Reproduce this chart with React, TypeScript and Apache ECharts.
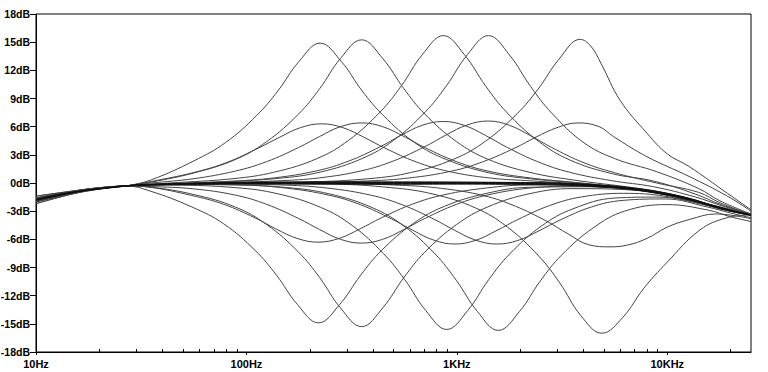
import React, { useEffect, useRef } from "react";
import * as echarts from "echarts";

// x-axis tick marks / labels
const X_MAJOR = [10, 100, 1000, 10000];
const X_LABELS = ["10Hz", "100Hz", "1KHz", "10KHz"];
const X_MINOR = [20, 30, 40, 50, 60, 70, 80, 90, 200, 300, 400, 500, 600, 700, 800, 900, 2000, 3000, 4000, 5000, 6000, 7000, 8000, 9000, 20000];

// flat (0 dB setting) responses
const FREQ_FLAT = [10, 13, 17, 22, 27, 35, 50, 70, 100, 200, 500, 1000, 2000, 3000, 5000, 7000, 10000, 13000, 16000, 20000, 25000];
const FLAT_1 = [-1.8, -1.25, -0.8, -0.5, -0.3, -0.18, -0.1, -0.05, 0, 0, 0, 0, -0.05, -0.1, -0.35, -0.65, -1.2, -1.75, -2.35, -2.95, -3.4];
const FLAT_2 = [-1.75, -1.2, -0.78, -0.48, -0.28, -0.14, -0.05, 0.02, 0.08, 0.12, 0.12, 0.1, 0.05, 0, -0.25, -0.55, -1.1, -1.68, -2.3, -2.9, -3.38];
const FLAT_3 = [-1.85, -1.3, -0.83, -0.52, -0.32, -0.2, -0.14, -0.1, -0.08, -0.1, -0.14, -0.12, -0.15, -0.2, -0.45, -0.75, -1.3, -1.85, -2.42, -3.0, -3.42];
const FLAT_4 = [-1.78, -1.22, -0.79, -0.49, -0.3, -0.16, -0.07, 0, 0.04, 0.06, 0.05, 0.06, 0.02, -0.04, -0.3, -0.6, -1.15, -1.72, -2.32, -2.92, -3.4];
const FLAT_5 = [-1.82, -1.27, -0.81, -0.51, -0.31, -0.19, -0.12, -0.07, -0.04, -0.05, -0.06, -0.05, -0.08, -0.14, -0.4, -0.7, -1.25, -1.8, -2.38, -2.97, -3.41];

// band A (~220 Hz)
const A_P15 = [[10, -2.2], [15, -1.15], [20, -0.65], [27, -0.3], [35.4, 0.35], [56.2, 2.35], [79.5, 4.3], [112, 7.2], [141, 9.8], [178, 12.96], [224, 14.9], [282, 12.96], [355, 9.8], [447, 7.2], [631, 4.3], [892, 2.5], [1413, 1.1], [2240, 0.45], [4470, -0.15], [10000, -1.15], [16000, -2.3], [25000, -3.4]];
const A_P6 = [[10, -2.0], [15, -1.1], [20, -0.62], [27, -0.3], [36, 0.2], [57, 1.15], [81, 2.2], [114, 3.72], [144, 4.88], [181, 5.9], [228, 6.3], [287, 5.9], [361, 4.88], [455, 3.72], [642, 2.24], [907, 1.25], [1439, 0.53], [2280, 0.22], [4550, -0.24], [10000, -1.2], [16000, -2.35], [25000, -3.4]];
const A_M15 = [[10, -1.4], [15, -0.85], [20, -0.5], [27, -0.32], [34.8, -0.85], [55, -2.55], [78, -4.35], [110, -7.18], [139, -9.82], [175, -12.96], [220, -14.9], [277, -12.96], [349, -9.82], [439, -7.18], [620, -4.32], [876, -2.47], [1388, -1.1], [2200, -0.46], [4390, -0.4], [10000, -1.25], [16000, -2.4], [25000, -3.45]];
const A_M6 = [[10, -1.6], [15, -0.95], [20, -0.55], [27, -0.32], [34.7, -0.45], [55, -1.33], [78, -2.27], [110, -3.72], [138, -4.88], [174, -5.9], [219, -6.3], [276, -5.9], [347, -4.88], [437, -3.72], [617, -2.24], [872, -1.25], [1382, -0.53], [2190, -0.22], [4370, -0.34], [10000, -1.2], [16000, -2.35], [25000, -3.4]];

// band B (~350 Hz)
const B_P15 = [[10, -2.2], [15, -1.15], [20, -0.65], [27, -0.3], [35.3, 0.1], [55.8, 1.05], [88.6, 2.5], [125, 4.42], [177, 7.35], [223, 10.05], [280, 13.27], [353, 15.25], [444, 13.27], [560, 10.05], [704, 7.35], [995, 4.42], [1405, 2.53], [2227, 1.13], [3530, 0.34], [7040, -0.53], [10000, -1.1], [16000, -2.3], [25000, -3.35]];
const B_P6 = [[10, -2.0], [15, -1.1], [20, -0.62], [27, -0.3], [35.3, 0], [55.8, 0.45], [88.6, 1.27], [125, 2.28], [177, 3.78], [223, 4.96], [280, 6.0], [353, 6.4], [444, 6.0], [560, 4.96], [704, 3.78], [995, 2.28], [1405, 1.27], [2227, 0.54], [3530, 0.09], [7040, -0.6], [10000, -1.15], [16000, -2.35], [25000, -3.4]];
const B_M15 = [[10, -1.4], [15, -0.85], [20, -0.5], [27, -0.32], [35.3, -0.45], [55.8, -1.21], [88.6, -2.56], [125, -4.44], [177, -7.37], [223, -10.08], [280, -13.31], [353, -15.3], [444, -13.31], [560, -10.08], [704, -7.37], [995, -4.44], [1405, -2.54], [2227, -1.13], [3530, -0.6], [7040, -0.77], [10000, -1.3], [16000, -2.45], [25000, -3.45]];
const B_M6 = [[10, -1.6], [15, -0.95], [20, -0.55], [27, -0.32], [35.3, -0.38], [55.8, -0.62], [88.6, -1.29], [125, -2.28], [177, -3.78], [223, -4.96], [280, -6.0], [353, -6.4], [444, -6.0], [560, -4.96], [704, -3.78], [995, -2.28], [1405, -1.27], [2227, -0.54], [3530, -0.35], [7040, -0.71], [10000, -1.25], [16000, -2.4], [25000, -3.4]];

// band C (~870 Hz)
const C_P15 = [[10, -2.0], [15, -1.05], [20, -0.6], [27, -0.3], [43.3, 0.0], [86.3, 0.46], [136, 1.16], [217, 2.61], [306, 4.55], [432, 7.57], [545, 10.35], [685, 13.66], [863, 15.7], [1087, 13.66], [1368, 10.35], [1722, 7.55], [2432, 4.48], [3436, 2.46], [5445, 1.0], [8630, 0.2], [13680, -1.2], [18000, -2.3], [25000, -3.3]];
const C_P6 = [[10, -1.9], [15, -1.05], [20, -0.6], [27, -0.3], [43, -0.07], [86, 0.2], [136, 0.55], [216, 1.3], [306, 2.33], [432, 3.86], [543, 5.08], [684, 6.14], [861, 6.55], [1084, 6.14], [1365, 5.08], [1718, 3.84], [2426, 2.26], [3428, 1.15], [5433, 0.25], [8610, -0.4], [13650, -1.5], [18000, -2.4], [25000, -3.4]];
const C_M15 = [[10, -1.6], [15, -0.9], [20, -0.52], [27, -0.32], [44.9, -0.24], [89.5, -0.5], [141, -1.15], [225, -2.59], [318, -4.52], [448, -7.52], [565, -10.28], [711, -13.57], [895, -15.6], [1127, -13.57], [1419, -10.28], [1786, -7.54], [2522, -4.59], [3563, -2.75], [5647, -1.6], [8950, -1.5], [14190, -2.15], [18000, -2.8], [25000, -3.45]];
const C_M6 = [[10, -1.7], [15, -0.95], [20, -0.55], [27, -0.32], [49, -0.16], [98, -0.23], [155, -0.55], [246, -1.29], [348, -2.31], [491, -3.84], [618, -5.04], [778, -6.09], [980, -6.5], [1234, -6.09], [1553, -5.04], [1955, -3.88], [2762, -2.4], [3901, -1.49], [6184, -1.1], [9800, -1.41], [15530, -2.4], [20000, -3.0], [25000, -3.45]];

// band D (~1.5 kHz)
const D_P15 = [[10, -2.0], [15, -1.05], [20, -0.6], [27, -0.3], [44.7, -0.07], [70.9, 0.08], [141, 0.49], [224, 1.16], [355, 2.61], [501, 4.55], [708, 7.57], [892, 10.35], [1122, 13.66], [1413, 15.7], [1779, 13.63], [2240, 10.29], [2819, 7.47], [3982, 4.35], [5625, 2.6], [8915, 1.2], [14130, -0.6], [17800, -1.9], [25000, -3.3]];
const D_P6 = [[10, -1.9], [15, -1.05], [20, -0.6], [27, -0.3], [44.6, -0.1], [70.7, 0.01], [141, 0.23], [223, 0.55], [354, 1.31], [500, 2.35], [707, 3.89], [890, 5.12], [1119, 6.18], [1410, 6.6], [1775, 6.15], [2235, 5.05], [2813, 3.8], [3973, 2.2], [5613, 1.1], [8897, 0.0], [14100, -1.0], [17800, -2.1], [25000, -3.4]];
const D_M15 = [[10, -1.6], [15, -0.9], [20, -0.52], [27, -0.32], [49.8, -0.15], [79, -0.17], [157, -0.49], [248, -1.16], [395, -2.61], [558, -4.55], [789, -7.57], [993, -10.35], [1250, -13.66], [1574, -15.7], [1982, -13.7], [2495, -10.42], [3140, -7.7], [4435, -4.8], [6266, -3.0], [9932, -2.3], [15740, -2.9], [20000, -3.6], [25000, -4.1]];
const D_M6 = [[10, -1.7], [15, -0.95], [20, -0.55], [27, -0.32], [49, -0.12], [77.6, -0.1], [155, -0.23], [244, -0.55], [389, -1.29], [549, -2.31], [776, -3.84], [977, -5.04], [1230, -6.09], [1549, -6.5], [1950, -6.12], [2455, -5.1], [3090, -3.95], [4365, -2.55], [6166, -1.85], [9773, -1.7], [15490, -2.55], [20000, -3.2], [25000, -3.7]];

// band E (~4-5 kHz)
const E_P15 = [[10, -2.0], [15, -1.05], [20, -0.6], [27, -0.3], [50, -0.1], [97, 0.0], [193, 0.1], [386, 0.47], [609, 1.13], [967, 2.54], [1366, 4.44], [1932, 7.37], [2432, 10.0], [3062, 13.2], [3855, 15.3], [4325, 14.6], [4853, 12.7], [5970, 8.8], [8010, 5.3], [10000, 3.1], [12700, 1.76], [19300, -1.1], [25000, -2.85]];
const E_P6 = [[10, -1.9], [15, -1.05], [20, -0.6], [27, -0.3], [50, -0.12], [189, 0.06], [377, 0.22], [595, 0.54], [946, 1.27], [1336, 2.28], [1889, 3.73], [2379, 4.89], [2995, 5.9], [3770, 6.4], [4746, 6.0], [5546, 4.95], [8010, 2.8], [12700, 0.7], [19300, -1.4], [25000, -3.0]];
const E_M15 = [[10, -1.6], [15, -0.9], [20, -0.52], [27, -0.32], [60, -0.1], [245, -0.12], [489, -0.5], [771, -1.18], [1228, -2.66], [1734, -4.67], [2450, -7.78], [3084, -10.64], [3883, -14.12], [4888, -16.0], [6154, -14.3], [7747, -11.2], [9930, -8.5], [14300, -5.0], [19200, -3.7], [25000, -3.4]];
const E_M6 = [[10, -1.7], [15, -0.95], [20, -0.55], [27, -0.32], [60, -0.1], [268, -0.06], [535, -0.24], [844, -0.57], [1344, -1.35], [1897, -2.47], [2682, -4.09], [3376, -5.42], [4250, -6.59], [5350, -6.8], [6500, -6.6], [8010, -5.9], [10000, -4.7], [12700, -3.9], [17000, -3.3], [25000, -3.8]];

const BAND_CURVES = [
  A_P15, A_P6, A_M15, A_M6,
  B_P15, B_P6, B_M15, B_M6,
  C_P15, C_P6, C_M15, C_M6,
  D_P15, D_P6, D_M15, D_M6,
  E_P15, E_P6, E_M15, E_M6,
];
const FLAT_CURVES = [FLAT_1, FLAT_2, FLAT_3, FLAT_4, FLAT_5];

const FONT = "'Liberation Sans', Arial, sans-serif";

export default function App() {
  const ref = useRef<HTMLDivElement>(null);
  useEffect(() => {
    if (!ref.current) return;
    const chart = echarts.init(ref.current, undefined, { renderer: "svg" });
    const labelFor = (v: number) => {
      const i = X_MAJOR.findIndex((t) => Math.abs(Math.log10(t) - Math.log10(v)) < 1e-6);
      return i >= 0 ? X_LABELS[i] : "";
    };
    const series: any[] = [];
    BAND_CURVES.forEach((c, i) => {
      series.push({
        type: "line",
        name: "band" + i,
        data: c,
        showSymbol: false,
        smooth: 0.4,
        xAxisIndex: 0,
        lineStyle: { color: "#444", width: 1 },
        emphasis: { disabled: true },
      });
    });
    FLAT_CURVES.forEach((c, i) => {
      series.push({
        type: "line",
        name: "flat" + i,
        data: FREQ_FLAT.map((f, j) => [f, c[j]]),
        showSymbol: false,
        smooth: 0.4,
        xAxisIndex: 0,
        lineStyle: { color: "#111", width: 1 },
        emphasis: { disabled: true },
      });
    });
    chart.setOption({
      animation: false,
      backgroundColor: "#fff",
      grid: {
        left: 36,
        right: 17,
        top: 14,
        bottom: 20,
        containLabel: false,
        outerBoundsMode: "none",
        show: true,
        borderColor: "#000",
        borderWidth: 1,
      },
      xAxis: [
        {
          type: "log",
          logBase: 10,
          min: 10,
          max: 25000,
          position: "bottom",
          axisLine: { show: true, onZero: false, lineStyle: { color: "#000", width: 1 } },
          axisTick: { show: true, inside: false, length: 3, customValues: X_MAJOR, lineStyle: { color: "#000" } },
          axisLabel: {
            show: true,
            customValues: X_MAJOR,
            formatter: (v: number) => labelFor(v),
            color: "#000",
            fontSize: 11,
            fontWeight: "bold",
            fontFamily: FONT,
            margin: 6,
          },
          splitLine: { show: false },
          minorTick: { show: false },
        },
        {
          type: "log",
          logBase: 10,
          min: 10,
          max: 25000,
          position: "bottom",
          axisLine: { show: false, onZero: false },
          axisTick: { show: true, inside: true, length: 3, customValues: X_MINOR, lineStyle: { color: "#000" } },
          axisLabel: { show: false },
          splitLine: { show: false },
        },
      ],
      yAxis: {
        type: "value",
        min: -18,
        max: 18,
        interval: 3,
        axisLine: { show: true, onZero: false, lineStyle: { color: "#000", width: 1 } },
        axisTick: { show: true, length: 6, lineStyle: { color: "#000" } },
        axisLabel: {
          formatter: (v: number) => `${v}dB`,
          color: "#000",
          fontSize: 10.5,
          fontWeight: "bold",
          fontFamily: FONT,
          margin: 6,
        },
        splitLine: { show: false },
      },
      series,
    });
    return () => chart.dispose();
  }, []);
  return <div ref={ref} style={{ position: "fixed", left: 0, top: 0, width: 768, height: 372 }} />;
}
